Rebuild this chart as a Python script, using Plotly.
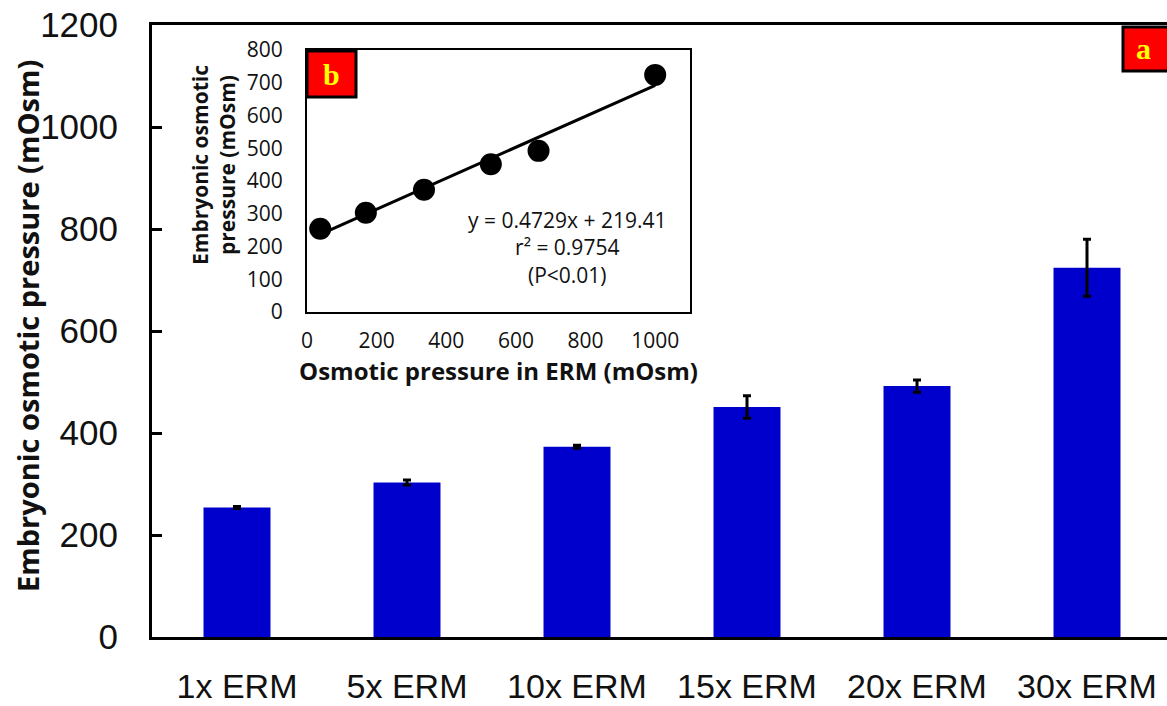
import plotly.graph_objects as go

# ---- data ----
categories = ["1x ERM", "5x ERM", "10x ERM", "15x ERM", "20x ERM", "30x ERM"]
embryo_osm = [254, 303, 373, 451, 492, 724]
embryo_err = [2, 5, 3, 22, 12, 56]
erm_osm = [38, 169, 336, 528, 665, 1000]
fit_slope = 0.4729
fit_intercept = 219.41
main_yticks = [0, 200, 400, 600, 800, 1000, 1200]
inset_yticks = [0, 100, 200, 300, 400, 500, 600, 700, 800]
inset_xticks = [0, 200, 400, 600, 800, 1000]

W, H = 1167, 706
L, T, B = 152, 25, 69
PW = W - L
PH = H - T - B


def px(xp):
    return (xp - L) / PW


def py(yp):
    return (H - B - yp) / PH


fig = go.Figure()

fig.add_trace(go.Bar(
    x=categories, y=embryo_osm,
    marker=dict(color="#0000CC", line=dict(width=0)),
    error_y=dict(type="data", array=embryo_err, color="black", thickness=3, width=4),
    xaxis="x", yaxis="y", showlegend=False,
))

fit_x = [min(erm_osm), max(erm_osm)]
fit_y = [fit_slope * v + fit_intercept for v in fit_x]
fig.add_trace(go.Scatter(
    x=fit_x, y=fit_y, mode="lines", line=dict(color="black", width=3),
    xaxis="x2", yaxis="y2", showlegend=False,
))
fig.add_trace(go.Scatter(
    x=erm_osm, y=embryo_osm, mode="markers",
    marker=dict(color="black", size=22),
    xaxis="x2", yaxis="y2", showlegend=False,
))

calibri_like = "Open Sans, Noto Sans"

fig.update_layout(
    width=W, height=H,
    margin=dict(l=L, r=0, t=T, b=B, autoexpand=False),
    paper_bgcolor="white", plot_bgcolor="white",
    bargap=0.606,
    xaxis=dict(
        domain=[0, 1], range=[-0.5, -0.5 + PW / 170], automargin=False,
        showline=True, linewidth=3, linecolor="black", mirror=True,
        ticks="", showgrid=False, zeroline=False,
        tickfont=dict(family="Liberation Sans, Arial", size=34, color="#111"),
        ticklabelstandoff=17,
    ),
    yaxis=dict(
        domain=[0, 1], range=[0, 1200], tickvals=main_yticks, automargin=False,
        showline=True, linewidth=3, linecolor="black",
        ticks="inside", ticklen=10, tickwidth=3, tickcolor="black",
        showgrid=False, zeroline=False,
        tickfont=dict(family="Liberation Sans, Arial", size=35, color="#111"),
        ticklabelstandoff=24,
    ),
    xaxis2=dict(
        domain=[px(307), px(690)], anchor="y2", range=[0, 1100],
        tickvals=inset_xticks, automargin=False,
        showline=True, linewidth=2, linecolor="black", mirror=True,
        ticks="", showgrid=False, zeroline=False,
        tickfont=dict(family=calibri_like, size=21, color="#111"),
        ticklabelstandoff=9,
        title=dict(text="<b>Osmotic pressure in ERM (mOsm)</b>",
                   font=dict(family=calibri_like, size=24, color="#111"), standoff=3),
    ),
    yaxis2=dict(
        domain=[py(312), py(50)], anchor="x2", range=[0, 800],
        tickvals=inset_yticks, automargin=False,
        showline=True, linewidth=2, linecolor="black", mirror=True,
        ticks="", showgrid=False, zeroline=False,
        tickfont=dict(family=calibri_like, size=21, color="#111"),
        ticklabelstandoff=18,
    ),
)

# inset background
fig.add_shape(type="rect", xref="paper", yref="paper",
              x0=px(307), x1=px(690), y0=py(312), y1=py(50),
              fillcolor="white", line=dict(width=0), layer="below")

# label boxes
fig.add_shape(type="rect", xref="paper", yref="paper",
              x0=px(307), x1=px(356), y0=py(97), y1=py(51),
              fillcolor="#FF0000", line=dict(color="black", width=3))
fig.add_shape(type="rect", xref="paper", yref="paper",
              x0=px(1123), x1=px(1175), y0=py(71), y1=py(27),
              fillcolor="#FF0000", line=dict(color="black", width=3))

annotations = [
    dict(text="<b>b</b>", x=px(331), y=py(74), font=dict(family="Liberation Serif", size=30, color="#FFFF00")),
    dict(text="<b>a</b>", x=px(1143), y=py(49), font=dict(family="Liberation Serif", size=30, color="#FFFF00")),
    dict(text="<b>Embryonic osmotic pressure (mOsm)</b>", x=px(27), y=py(326), textangle=-90,
         font=dict(family=calibri_like, size=29, color="#111")),
    dict(text="<b>Embryonic osmotic<br>pressure (mOsm)</b>", x=px(214), y=py(165), textangle=-90,
         font=dict(family=calibri_like, size=21, color="#111")),
    dict(text="y = 0.4729x + 219.41<br>r² = 0.9754<br>(P<0.01)", x=px(567), y=py(247),
         font=dict(family=calibri_like, size=21, color="#111"), align="center"),
]
for a in annotations:
    fig.add_annotation(xref="paper", yref="paper", showarrow=False,
                       xanchor="center", yanchor="middle", **a)

fig.write_html("out.html")
